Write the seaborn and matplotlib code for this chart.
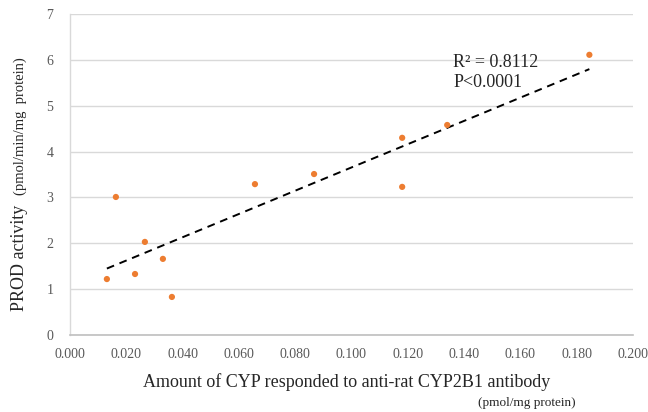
import numpy as np
import pandas as pd
import matplotlib
matplotlib.use("Agg")
import matplotlib.pyplot as plt
import seaborn as sns

# Data
cyp_amount = [0.0131, 0.0163, 0.0231, 0.0266, 0.0330, 0.0362, 0.0657, 0.0867, 0.1180, 0.1180, 0.1340, 0.1845]
prod_activity = [1.22, 3.01, 1.33, 2.03, 1.66, 0.83, 3.29, 3.51, 4.30, 3.23, 4.58, 6.11]
x_ticks = [0.000, 0.020, 0.040, 0.060, 0.080, 0.100, 0.120, 0.140, 0.160, 0.180, 0.200]
y_ticks = [0, 1, 2, 3, 4, 5, 6, 7]
annot_lines = ["R\u00b2 = 0.8112", "P<0.0001"]

df = pd.DataFrame({"x": cyp_amount, "y": prod_activity})

sns.set_style("white")
plt.rcParams["font.family"] = ["Liberation Serif", "DejaVu Serif"]

fig = plt.figure(figsize=(6.48, 4.12), dpi=100)
ax = fig.add_axes([70/648, 1-335/412, (633-70)/648, (335-14)/412])

sns.regplot(data=df, x="x", y="y", scatter=False, ci=None, truncate=True,
            color="black", line_kws=dict(linestyle=(0, (4, 3)), linewidth=1.4), ax=ax)
sns.scatterplot(data=df, x="x", y="y", color="#ED7D31", s=20, edgecolor="none", ax=ax, zorder=3)

ax.set_xlim(0, 0.2)
ax.set_ylim(0, 7)
ax.set_xticks(x_ticks)
ax.set_xticklabels([f"{v:.3f}" for v in x_ticks])
ax.set_yticks(y_ticks)
ax.set_yticklabels([str(v) for v in y_ticks])
ax.tick_params(axis="both", length=0, labelsize=10, colors="#595959", pad=6)
ax.tick_params(axis="x", pad=9)
ax.tick_params(axis="y", pad=12)
ax.yaxis.grid(True, color="#d9d9d9", linewidth=1)
ax.xaxis.grid(False)
for s in ["top", "right"]:
    ax.spines[s].set_visible(False)
ax.spines["left"].set_color("#d9d9d9")
ax.spines["left"].set_linewidth(1)
ax.spines["bottom"].set_color("#bfbfbf")
ax.spines["bottom"].set_linewidth(1.2)
ax.set_xlabel("")
ax.set_ylabel("")

ax.text(0.1362, 5.72, annot_lines[0] + "\n" + annot_lines[1], fontsize=13,
        color="#262626", va="center", ha="left", linespacing=1.25)

fig.text(347/648, 1-382/412, "Amount of CYP responded to anti-rat CYP2B1 antibody",
         fontsize=13, ha="center", va="center", color="#262626")
fig.text(527/648, 1-403/412, "(pmol/mg protein)", fontsize=9.5,
         ha="center", va="center", color="#262626")
fig.text(20/648, 1-258/412, "PROD activity", fontsize=13, rotation=90,
         ha="center", va="center", color="#262626")
fig.text(20/648, 1-126/412, "(pmol/min/mg  protein)", fontsize=10.5, rotation=90,
         ha="center", va="center", color="#262626")

fig.savefig("out.png", dpi=100, facecolor="white")
